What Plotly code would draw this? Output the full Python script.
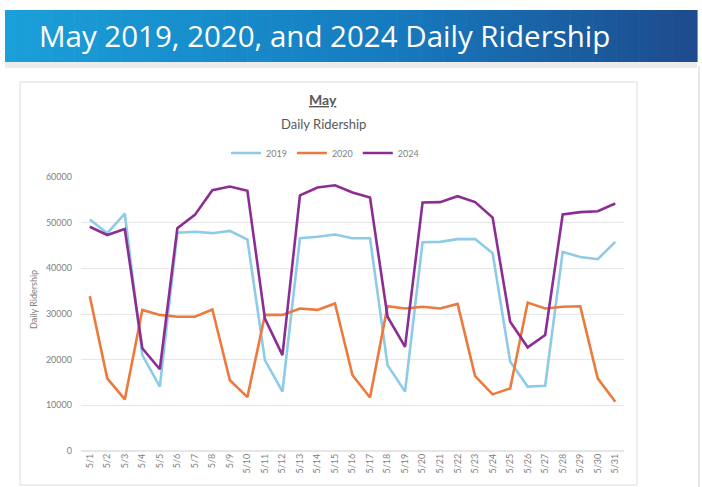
import plotly.graph_objects as go

dates = [f"5/{d}" for d in range(1, 32)]
ridership_2019 = [50700, 47700, 52000, 21000, 14100, 47800, 48000, 47700, 48200, 46300,
                  19900, 13000, 46600, 46900, 47400, 46600, 46600, 18800, 13000, 45700,
                  45800, 46400, 46400, 43300, 19600, 14100, 14300, 43600, 42500, 42000, 45800]
ridership_2020 = [33900, 15900, 11300, 30900, 29800, 29400, 29400, 31000, 15500, 11800,
                  29800, 29800, 31200, 30900, 32300, 16600, 11700, 31700, 31200, 31600,
                  31200, 32200, 16400, 12400, 13700, 32500, 31200, 31600, 31700, 15900, 10800]
ridership_2024 = [49100, 47300, 48600, 22500, 17900, 48800, 51700, 57100, 57900, 57000,
                  29000, 21000, 56000, 57700, 58200, 56600, 55500, 29400, 22800, 54400,
                  54500, 55800, 54500, 51100, 28300, 22700, 25400, 51800, 52300, 52500, 54200]
y_ticks = [0, 10000, 20000, 30000, 40000, 50000, 60000]

W, H = 702, 487
L, R, T, B = 81, 624, 177, 451

def px(x):
    return (x - L) / (R - L)

def py(y):
    return (B - y) / (B - T)

fig = go.Figure()
series = [("2019", ridership_2019, "#8dcbe6"),
          ("2020", ridership_2020, "#ec7a3c"),
          ("2024", ridership_2024, "#8c2d93")]
for name, vals, col in series:
    fig.add_trace(go.Scatter(x=dates, y=vals, name=name, mode="lines",
                             line=dict(color=col, width=2.6)))

shapes = []
# banner gradient
n = 60
x0, x1 = 5, 697
c0 = (27, 160, 218)
cm = (22, 124, 192)
c1 = (30, 76, 142)
for i in range(n):
    t = i / (n - 1)
    if t < 0.55:
        tt = t / 0.55
        a, b2 = c0, cm
    else:
        tt = (t - 0.55) / 0.45
        a, b2 = cm, c1
    c = tuple(int(a[k] + (b2[k] - a[k]) * tt) for k in range(3))
    xa = x0 + (x1 - x0) * i / n
    xb = x0 + (x1 - x0) * (i + 1) / n + 0.6
    shapes.append(dict(type="rect", xref="paper", yref="paper",
                       x0=px(xa), x1=px(xb), y0=py(62), y1=py(10),
                       fillcolor=f"rgb{c}", line=dict(width=0), layer="below"))
# shadow strip under banner
shapes.append(dict(type="rect", xref="paper", yref="paper", x0=px(5), x1=px(697),
                   y0=py(68), y1=py(62), fillcolor="#ececec", line=dict(width=0), layer="below"))
# chart card border
shapes.append(dict(type="rect", xref="paper", yref="paper", x0=px(20), x1=px(637),
                   y0=py(485), y1=py(82), fillcolor="rgba(0,0,0,0)",
                   line=dict(color="#dcdcdc", width=1), layer="below"))
# right slide edge
shapes.append(dict(type="line", xref="paper", yref="paper", x0=px(699), x1=px(699),
                   y0=py(487), y1=py(66), line=dict(color="#d0d0d0", width=1)))

annotations = [
    dict(text="May 2019, 2020, and 2024 Daily Ridership", xref="paper", yref="paper",
         x=px(37), y=py(35), xanchor="left", yanchor="middle", showarrow=False,
         font=dict(family="Open Sans", size=29.5, color="white")),
    dict(text="<b><u>May</u></b>", xref="paper", yref="paper", x=px(323), y=py(100),
         xanchor="center", yanchor="middle", showarrow=False,
         font=dict(family="Lato", size=14, color="#595959")),
    dict(text="Daily Ridership", xref="paper", yref="paper", x=px(323), y=py(124),
         xanchor="center", yanchor="middle", showarrow=False,
         font=dict(family="Lato", size=13, color="#595959")),
    dict(text="Daily Ridership", xref="paper", yref="paper", x=px(33), y=py(300),
         xanchor="center", yanchor="middle", showarrow=False, textangle=-90,
         font=dict(family="Lato", size=9, color="#7f7f7f")),
]

fig.update_layout(
    width=W, height=H,
    margin=dict(l=L, r=W - R, t=T, b=H - B, autoexpand=False),
    paper_bgcolor="white", plot_bgcolor="white",
    font=dict(family="Lato", size=9, color="#7f7f7f"),
    shapes=shapes, annotations=annotations,
    showlegend=True,
    legend=dict(orientation="h", x=px(325), xanchor="center", y=py(153), yanchor="middle",
                font=dict(size=9, color="#7f7f7f"), itemwidth=30, bgcolor="rgba(0,0,0,0)"),
    xaxis=dict(type="category", range=[-0.5, 30.5], tickangle=-90, showgrid=False,
               showline=False, zeroline=False, ticks="", automargin=False,
               tickfont=dict(size=9, color="#7f7f7f")),
    yaxis=dict(range=[0, 60000], tickvals=y_ticks, ticktext=[str(v) for v in y_ticks],
               showgrid=True, gridcolor="#e6e6e6", gridwidth=1, zeroline=True,
               zerolinecolor="#e6e6e6", showline=False, ticks="", automargin=False,
               ticklabelstandoff=8, tickfont=dict(size=9, color="#7f7f7f")),
)

fig.write_html("out.html", config={"displayModeBar": False},
               post_script="document.body.style.margin='0';document.body.style.overflow='hidden';")
